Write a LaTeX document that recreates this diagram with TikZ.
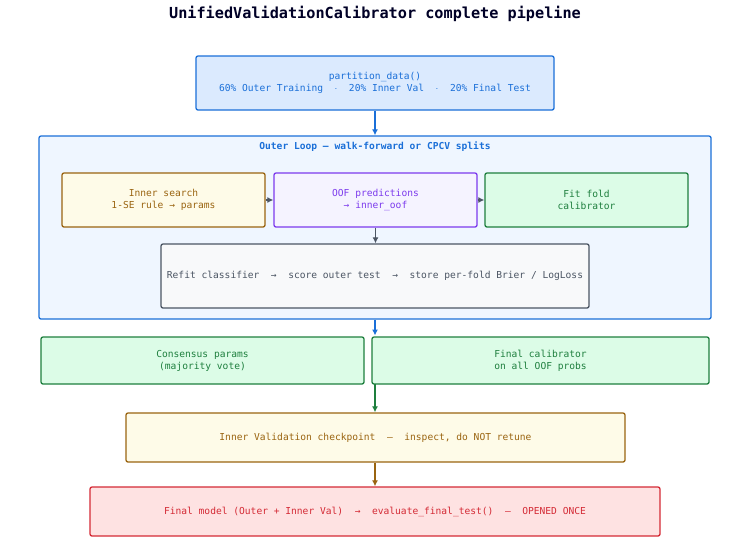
\documentclass[tikz,border=0pt]{standalone}
\usepackage{fontspec}
\setmonofont{DejaVu Sans Mono}
\usetikzlibrary{arrows.meta}
\definecolor{cblue}{HTML}{1A6FD8}
\definecolor{fblue}{HTML}{DBEAFE}
\definecolor{fpale}{HTML}{EFF6FF}
\definecolor{cyel}{HTML}{9A6410}
\definecolor{fyel}{HTML}{FEFBE8}
\definecolor{cpur}{HTML}{7C3AED}
\definecolor{fpur}{HTML}{F5F3FF}
\definecolor{cgrn}{HTML}{1E7F3E}
\definecolor{fgrn}{HTML}{DCFCE7}
\definecolor{cgry}{HTML}{4B5563}
\definecolor{fgry}{HTML}{F8F9FA}
\definecolor{cred}{HTML}{D42A35}
\definecolor{fred}{HTML}{FEE2E2}
\tikzset{
  box/.style n args={4}{draw=#1,fill=#2,text=#1,line width=1.3pt,rounded corners=2pt,
    minimum width=#3,minimum height=#4,align=center,inner sep=0pt,
    font=\ttfamily\fontsize{9.6}{12}\selectfont},
  arr/.style={-{Latex[length=6pt,width=6pt]},line width=1.3pt,draw=#1}
}
\begin{document}
\begin{tikzpicture}[x=1pt,y=-1pt]
\useasboundingbox (0,0) rectangle (750,550);
\node[font=\ttfamily\bfseries\fontsize{15.2}{17}\selectfont,text=black!85!blue] (title) at (375,14) {UnifiedValidationCalibrator complete pipeline};

\node[box={cblue}{fblue}{358pt}{54pt}] (part) at (375,83) {partition\_data()\\60\% Outer Training \ $\cdot$ \ 20\% Inner Val \ $\cdot$ \ 20\% Final Test};

\node[box={cblue}{fpale}{672pt}{183pt}] (outer) at (375,227.5) {};
\node[text=cblue,font=\ttfamily\bfseries\fontsize{9.6}{12}\selectfont] (outertitle) at (375,147) {Outer Loop — walk-forward or CPCV splits};

\node[box={cyel}{fyel}{203pt}{54pt}] (inner) at (163.5,200) {Inner search\\1-SE rule → params};
\node[box={cpur}{fpur}{203pt}{54pt}] (oof) at (375.5,200) {OOF predictions\\→ inner\_oof};
\node[box={cgrn}{fgrn}{203pt}{54pt}] (fit) at (586.5,200) {Fit fold\\calibrator};
\node[box={cgry}{fgry}{428pt}{64pt}] (refit) at (375,276) {Refit classifier \ → \ score outer test \ → \ store per-fold Brier / LogLoss};

\node[box={cgrn}{fgrn}{323pt}{47pt}] (cons) at (202.5,360.5) {Consensus params\\(majority vote)};
\node[box={cgrn}{fgrn}{337pt}{47pt}] (fcal) at (540.5,360.5) {Final calibrator\\on all OOF probs};

\node[box={cyel}{fyel}{499pt}{49pt}] (check) at (375.5,437.5) {Inner Validation checkpoint \ — \ inspect, do NOT retune};
\node[box={cred}{fred}{570pt}{49pt}] (final) at (375,511.5) {Final model (Outer + Inner Val) \ → \ evaluate\_final\_test() \ — \ OPENED ONCE};

\coordinate (rowtop) at (375,335.5);
\coordinate (rowbot) at (375,384);

\draw[arr=cblue] (part.south) -- (outer.north);
\draw[arr=cgry] (inner) -- (oof);
\draw[arr=cgry] (oof) -- (fit);
\draw[arr=cgry] (oof.south) -- (refit.north-|oof.south);
\draw[arr=cblue] (outer.south) -- (rowtop);
\draw[arr=cgrn] (rowbot) -- (rowbot|-check.north);
\draw[arr=cyel] (check.south-|final.north) -- (final.north);
\end{tikzpicture}
\end{document}
